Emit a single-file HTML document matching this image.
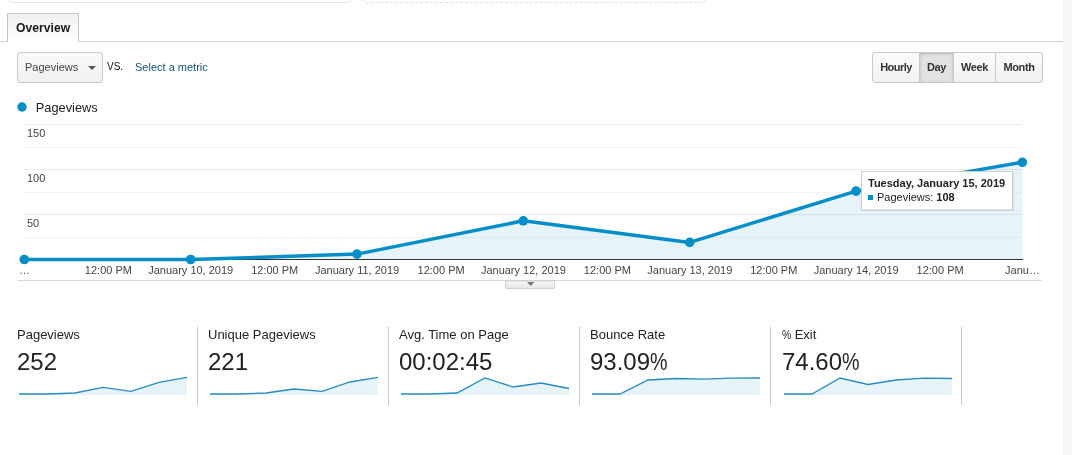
<!DOCTYPE html>
<html><head><meta charset="utf-8"><title>Overview</title>
<style>
html,body{margin:0;padding:0;background:#fff;}
body{width:1072px;height:455px;position:relative;overflow:hidden;font-family:"Liberation Sans",sans-serif;color:#222;}
.abs{position:absolute;}
#strip{left:1063px;top:0;width:9px;height:455px;background:#f6f7f9;}
#topbox1{left:7px;top:-21px;width:343px;height:22px;border:1px solid #e3e3e3;border-radius:5px;}
#topbox2{left:362px;top:-21px;width:343px;height:22px;border:1px dashed #e0e0e0;border-radius:5px;}
#tabline{left:0;top:41px;width:1063px;height:1px;background:#cfcfcf;}
#tab{left:7px;top:13px;width:70px;height:28px;border:1px solid #c6c6c6;border-bottom:none;background:linear-gradient(#f0f0f0,#fff);box-sizing:content-box;}
#tab span{position:absolute;left:8px;top:7px;font-size:12.2px;font-weight:bold;color:#1a1a1a;}
#dd{left:17px;top:52px;width:86px;height:31px;border:1px solid #c9c9c9;border-radius:3px;background:linear-gradient(#fafafa,#f0f0f0);box-sizing:border-box;}
#dd span{position:absolute;left:7px;top:8px;font-size:11px;color:#444;}
#dd i{position:absolute;left:70px;top:13px;width:0;height:0;border-left:4px solid transparent;border-right:4px solid transparent;border-top:4px solid #555;}
#vs{left:107px;top:61px;font-size:10px;color:#111;}
#sel{left:135px;top:61px;font-size:11px;color:#15527a;}
#bg{left:872px;top:52px;width:171px;height:31px;border:1px solid #c9c9c9;border-radius:3px;background:linear-gradient(#fbfbfb,#f1f1f1);box-sizing:border-box;}
#bg div{position:absolute;top:0;height:29px;line-height:29px;font-size:11px;letter-spacing:-0.4px;font-weight:bold;color:#333;text-align:center;border-left:1px solid #c9c9c9;box-sizing:border-box;}
.card{position:absolute;top:327px;height:78px;width:191px;border-right:1px solid #c8c8c8;box-sizing:content-box;}
.card .l{position:absolute;left:0;top:0px;font-size:13px;color:#222;white-space:nowrap;}
.card .v{position:absolute;left:0;top:21px;font-size:24px;color:#222;white-space:nowrap;}
.card svg{position:absolute;left:0;top:48px;}
</style></head><body>
<div class="abs" id="strip"></div>
<div class="abs" id="topbox1"></div>
<div class="abs" id="topbox2"></div>
<div class="abs" id="tabline"></div>
<div class="abs" id="tab"><span>Overview</span></div>
<div class="abs" id="dd"><span>Pageviews</span><i></i></div>
<div class="abs" id="vs">VS.</div>
<div class="abs" id="sel">Select a metric</div>
<div class="abs" id="bg">
<div style="left:0;width:46px;border-left:none;letter-spacing:-0.55px;">Hourly</div>
<div style="left:46px;width:34px;background:#e2e2e2;box-shadow:inset 0 1px 3px rgba(0,0,0,.2);">Day</div>
<div style="left:80px;width:42px;">Week</div>
<div style="left:122px;width:47px;">Month</div>
</div>

<svg class="abs" id="chart" style="left:0;top:95px" width="1063" height="200" viewBox="0 95 1063 200" font-family="Liberation Sans, sans-serif">
<circle cx="22" cy="107" r="4.7" fill="#058dc7"/>
<text x="35.8" y="111.5" font-size="12.8" fill="#222">Pageviews</text>
<g stroke="#ebebeb" stroke-width="1" shape-rendering="crispEdges">
<line x1="24" x2="1022" y1="124.5" y2="124.5"/>
<line x1="24" x2="1022" y1="169.5" y2="169.5"/>
<line x1="24" x2="1022" y1="214.5" y2="214.5"/>
</g>
<g stroke="#f4f4f4" stroke-width="1" shape-rendering="crispEdges">
<line x1="24" x2="1022" y1="147.5" y2="147.5"/>
<line x1="24" x2="1022" y1="192.5" y2="192.5"/>
<line x1="24" x2="1022" y1="237.5" y2="237.5"/>
</g>
<path d="M24.3 259.5 L190.65 259.5 L357.0 254.1 L523.35 220.8 L689.7 242.4 L856.05 191.1 L1022.4 162.3 L1022.4 259.5 Z" fill="#058dc7" fill-opacity="0.1"/>
<line x1="24" x2="1022.5" y1="259.5" y2="259.5" stroke="#333" stroke-width="1" shape-rendering="crispEdges"/>
<path d="M24.3 259.5 L190.65 259.5 L357.0 254.1 L523.35 220.8 L689.7 242.4 L856.05 191.1 L1022.4 162.3" fill="none" stroke="#058dc7" stroke-width="3.5" stroke-linejoin="round" stroke-linecap="round"/>
<g fill="#058dc7"><circle cx="24.3" cy="259.5" r="4.8"/><circle cx="190.65" cy="259.5" r="4.8"/><circle cx="357.0" cy="254.1" r="4.8"/><circle cx="523.35" cy="220.8" r="4.8"/><circle cx="689.7" cy="242.4" r="4.8"/><circle cx="856.05" cy="191.1" r="4.8"/><circle cx="1022.4" cy="162.3" r="4.8"/></g>
<g font-size="11" fill="#444">
<text x="27" y="137">150</text><text x="27" y="182">100</text><text x="27" y="227">50</text>
</g>
<g font-size="11" fill="#444" text-anchor="middle">
<text x="24.5" y="274">…</text>
<text x="108.4" y="274">12:00 PM</text>
<text x="190.7" y="274">January 10, 2019</text>
<text x="274.7" y="274">12:00 PM</text>
<text x="357.1" y="274">January 11, 2019</text>
<text x="441.1" y="274">12:00 PM</text>
<text x="523.4" y="274">January 12, 2019</text>
<text x="607.4" y="274">12:00 PM</text>
<text x="689.8" y="274">January 13, 2019</text>
<text x="773.8" y="274">12:00 PM</text>
<text x="856.2" y="274">January 14, 2019</text>
<text x="940.1" y="274">12:00 PM</text>
<text x="1022.5" y="274">Janu…</text>
</g>
<line x1="18" x2="1042" y1="280.5" y2="280.5" stroke="#d6d6d6" stroke-width="1" shape-rendering="crispEdges"/>
<defs><linearGradient id="hg" x1="0" y1="0" x2="0" y2="1"><stop offset="0" stop-color="#fafafa"/><stop offset="1" stop-color="#e4e4e4"/></linearGradient></defs>
<path d="M505.5 281 L505.5 287 Q505.5 288.5 507 288.5 L553 288.5 Q554.5 288.5 554.5 287 L554.5 281 Z" fill="url(#hg)" stroke="#d0d0d0" stroke-width="1"/>
<path d="M527 282 L534.4 282 L530.7 286 Z" fill="#777"/>
<g>
<rect x="862.5" y="172.5" width="151" height="38.5" fill="#000" fill-opacity="0.12"/>
<rect x="861.5" y="171.5" width="151" height="38.5" fill="#fff" stroke="#cccccc" stroke-width="1"/>
<text x="868" y="187" font-size="11" font-weight="bold" fill="#222">Tuesday, January 15, 2019</text>
<rect x="868" y="195" width="5" height="5" fill="#058dc7"/>
<text x="877" y="201" font-size="11" fill="#222">Pageviews: <tspan font-weight="bold">108</tspan></text>
</g>
</svg>

<div class="card" style="left:17px;width:180px"><div class="l">Pageviews</div><div class="v">252</div>
<svg width="172" height="24" viewBox="0 0 172 24"><path d="M2 19 L30 19 L58 18 L86 12.4 L114 16.3 L142 7.3 L170 2.4 L170 20 L2 20 Z" fill="#058dc7" fill-opacity=".1"/><path d="M2 19 L30 19 L58 18 L86 12.4 L114 16.3 L142 7.3 L170 2.4" fill="none" stroke="#268cbf" stroke-width="1.3"/></svg></div>
<div class="card" style="left:208px;width:180px"><div class="l">Unique Pageviews</div><div class="v">221</div>
<svg width="172" height="24" viewBox="0 0 172 24"><path d="M2 19 L30 19 L58 18 L86 14 L114 16.3 L142 7 L170 2.4 L170 20 L2 20 Z" fill="#058dc7" fill-opacity=".1"/><path d="M2 19 L30 19 L58 18 L86 14 L114 16.3 L142 7 L170 2.4" fill="none" stroke="#268cbf" stroke-width="1.3"/></svg></div>
<div class="card" style="left:399px;width:180px"><div class="l">Avg. Time on Page</div><div class="v">00:02:45</div>
<svg width="172" height="24" viewBox="0 0 172 24"><path d="M2 19 L30 19 L58 18 L86 3 L114 12 L142 8 L170 13.5 L170 20 L2 20 Z" fill="#058dc7" fill-opacity=".1"/><path d="M2 19 L30 19 L58 18 L86 3 L114 12 L142 8 L170 13.5" fill="none" stroke="#268cbf" stroke-width="1.3"/></svg></div>
<div class="card" style="left:590px;width:180px"><div class="l">Bounce Rate</div><div class="v">93.09<span style="display:inline-block;transform:scaleX(.82);transform-origin:left center">%</span></div>
<svg width="172" height="24" viewBox="0 0 172 24"><path d="M2 19 L30 19 L58 5 L86 3.5 L114 4.2 L142 3.2 L170 3 L170 20 L2 20 Z" fill="#058dc7" fill-opacity=".1"/><path d="M2 19 L30 19 L58 5 L86 3.5 L114 4.2 L142 3.2 L170 3" fill="none" stroke="#268cbf" stroke-width="1.3"/></svg></div>
<div class="card" style="left:782px;width:179px"><div class="l"><span style="display:inline-block;transform:scaleX(.8);transform-origin:left center;margin-right:-2.5px">%</span> Exit</div><div class="v">74.60<span style="display:inline-block;transform:scaleX(.82);transform-origin:left center">%</span></div>
<svg width="172" height="24" viewBox="0 0 172 24"><path d="M2 19 L30 19 L58 3 L86 9.5 L114 5 L142 3.2 L170 3.5 L170 20 L2 20 Z" fill="#058dc7" fill-opacity=".1"/><path d="M2 19 L30 19 L58 3 L86 9.5 L114 5 L142 3.2 L170 3.5" fill="none" stroke="#268cbf" stroke-width="1.3"/></svg></div>
</body></html>
